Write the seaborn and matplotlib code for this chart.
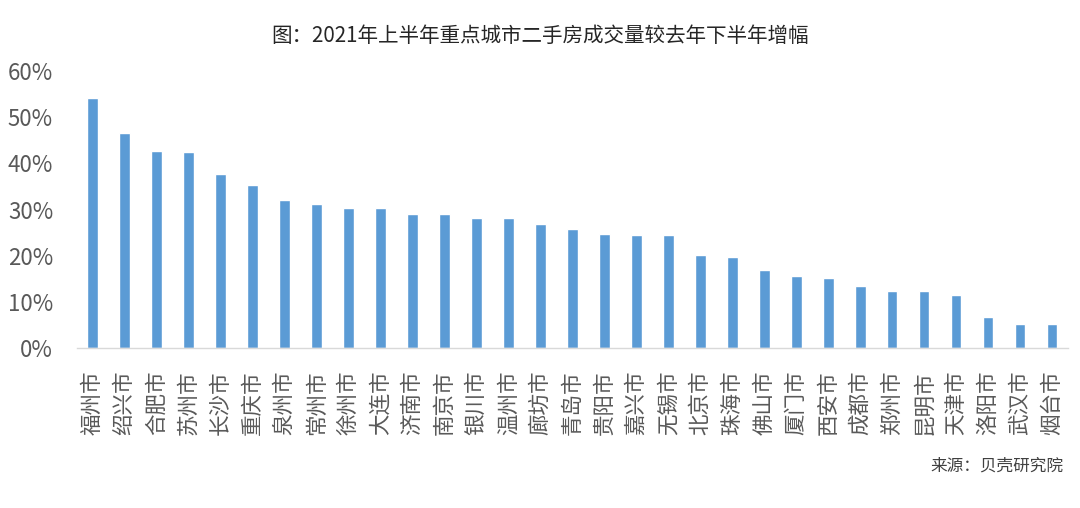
import pandas as pd
import matplotlib.pyplot as plt
import seaborn as sns

# 城市与增幅（%）
cities = ['福州市', '绍兴市', '合肥市', '苏州市', '长沙市', '重庆市', '泉州市', '常州市',
          '徐州市', '大连市', '济南市', '南京市', '银川市', '温州市', '廊坊市', '青岛市',
          '贵阳市', '嘉兴市', '无锡市', '北京市', '珠海市', '佛山市', '厦门市', '西安市',
          '成都市', '郑州市', '昆明市', '天津市', '洛阳市', '武汉市', '烟台市']
growth = [54.1, 46.6, 42.7, 42.5, 37.8, 35.4, 32.1, 31.2,
          30.3, 30.3, 29.0, 29.0, 28.1, 28.1, 26.9, 25.8,
          24.8, 24.5, 24.4, 20.2, 19.7, 17.0, 15.7, 15.1,
          13.4, 12.3, 12.3, 11.4, 6.7, 5.3, 5.1]
yticks = [0, 10, 20, 30, 40, 50, 60]

data = pd.DataFrame({'city': cities, 'growth': growth})

sns.set_style('white')
plt.rcParams['font.family'] = ['Noto Sans CJK SC', 'DejaVu Sans']

fig = plt.figure(figsize=(10.8, 5.08), dpi=100)
ax = fig.add_axes([0.071, 0.315, 0.918, 0.545])

sns.barplot(data=data, x='city', y='growth', color='#5B9BD5', saturation=1,
            width=0.33, ax=ax)

ax.set_ylim(0, 60)
ax.set_yticks(yticks)
ax.set_yticklabels([f'{t}%' for t in yticks])
ax.set_xlim(-0.5, len(cities) - 0.5)
ax.set_xlabel('')
ax.set_ylabel('')

for s in ['top', 'right', 'left']:
    ax.spines[s].set_visible(False)
ax.spines['bottom'].set_color('#D9D9D9')
ax.spines['bottom'].set_linewidth(1)

ax.tick_params(axis='y', length=0, pad=17, labelsize=16, labelcolor='#595959')
ax.tick_params(axis='x', length=0, pad=16, labelsize=15.5, labelcolor='#595959',
               rotation=90)

fig.text(0.5, 0.93, '图：2021年上半年重点城市二手房成交量较去年下半年增幅',
         ha='center', va='center', fontsize=14.8, color='#262626')
fig.text(0.985, 0.083, '来源：贝壳研究院', ha='right', va='center',
         fontsize=12, color='#404040')

fig.savefig('out.png', dpi=100)
